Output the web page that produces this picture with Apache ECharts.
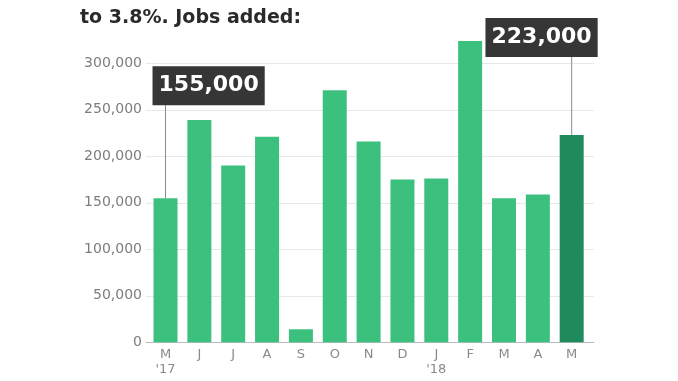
<!DOCTYPE html>
<html>
<head>
<meta charset="utf-8">
<script src="https://cdn.jsdelivr.net/npm/echarts@6/dist/echarts.min.js"></script>
<style>
html,body{margin:0;padding:0;background:#fff;}
#chart{width:678px;height:381px;}
</style>
</head>
<body>
<div id="chart"></div>
<script>
// ---- data ----
const months = ['May 2017','Jun 2017','Jul 2017','Aug 2017','Sep 2017','Oct 2017','Nov 2017','Dec 2017','Jan 2018','Feb 2018','Mar 2018','Apr 2018','May 2018'];
const tickLabels = ["M\n'17",'J','J','A','S','O','N','D',"J\n'18",'F','M','A','M'];
const jobsAdded = [155000,239000,190000,221000,14000,271000,216000,175000,176000,324000,155000,159000,223000];
const calloutIndexes = [0, 12];
const yTicks = [0,50000,100000,150000,200000,250000,300000];
const titleText = 'to 3.8%. Jobs added:';

// ---- layout / style ----
const LIGHT = '#3cc07e', DARK = '#1f8a5c';
const calloutLayout = [
  {rise: 93, dx: -13, align: 'left'},
  {rise: 78, dx: 26, align: 'right'}
];
const fmt = v => Number(v).toLocaleString('en-US');

const chart = echarts.init(document.getElementById('chart'));
chart.setOption({
  animation: false,
  backgroundColor: '#fff',
  title: {
    text: titleText, left: 75, top: 4,
    textStyle: {fontFamily: 'DejaVu Sans', fontWeight: 'bold', fontSize: 19, color: '#2a2a2a'}
  },
  grid: [
    {left: 146, right: 84, top: 63.3, bottom: 38.7},
    {left: 148.6, right: 89.4, top: 16.8, bottom: 38.7}
  ],
  xAxis: [
    {gridIndex: 0, type: 'value', min: 0, max: 1, axisLabel: {show: false}, axisTick: {show: false}, splitLine: {show: false},
     axisLine: {show: true, lineStyle: {color: '#bdbdbd', width: 1}}},
    {gridIndex: 1, type: 'category', data: months, axisLine: {show: false}, axisTick: {show: false},
     axisLabel: {interval: 0, margin: 5, color: '#8a8a8a', fontFamily: 'DejaVu Sans', fontSize: 13, lineHeight: 15,
       formatter: (v, i) => tickLabels[i]}}
  ],
  yAxis: [
    {gridIndex: 0, type: 'value', min: yTicks[0], max: yTicks[yTicks.length-1], interval: yTicks[1]-yTicks[0],
     axisLine: {show: false}, axisTick: {show: false},
     splitLine: {lineStyle: {color: '#e8e8e8', width: 1}},
     axisLabel: {margin: 4, color: '#7d7d7d', fontFamily: 'DejaVu Sans', fontSize: 14, formatter: v => fmt(v)}},
    {gridIndex: 1, type: 'value', min: 0, max: 350000, show: false, splitLine: {show: false}}
  ],
  series: [
    {
      type: 'bar', xAxisIndex: 1, yAxisIndex: 1, barWidth: 24,
      data: jobsAdded.map((v, i) => ({value: v, itemStyle: {color: i === jobsAdded.length - 1 ? DARK : LIGHT}}))
    },
    {
      type: 'custom', xAxisIndex: 1, yAxisIndex: 1, z: 5, clip: false,
      data: calloutIndexes.map(i => [i, jobsAdded[i]]),
      renderItem: (params, api) => {
        const p = api.coord([api.value(0), api.value(1)]);
        const cfg = calloutLayout[params.dataIndex];
        const topY = p[1] - cfg.rise;
        return {
          type: 'group',
          children: [
            {type: 'line', z2: 1, shape: {x1: p[0], y1: p[1], x2: p[0], y2: topY}, style: {stroke: '#8a8a8a', lineWidth: 1}},
            {type: 'text', z2: 10, x: p[0] + cfg.dx, y: topY,
             style: {text: fmt(api.value(1)), fill: '#fff', font: 'bold 22px "DejaVu Sans"',
               backgroundColor: '#363636', padding: [7, 6, 7, 6], lineHeight: 25,
               align: cfg.align, verticalAlign: 'bottom'}}
          ]
        };
      }
    }
  ]
});
</script>
</body>
</html>
